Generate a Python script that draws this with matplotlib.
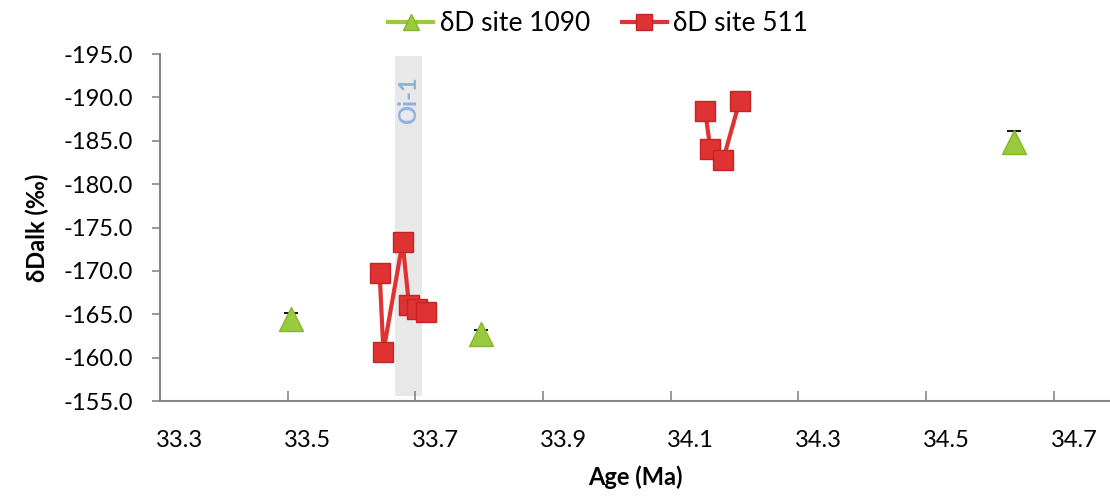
import matplotlib
matplotlib.use("Agg")
import matplotlib.pyplot as plt
from matplotlib.transforms import ScaledTranslation

plt.rcParams["font.family"] = ["Lato", "DejaVu Sans"]

# --- data ---
age_1090 = [33.506, 33.803, 34.638]
dd_1090 = [-164.5, -162.7, -184.9]
err_1090 = [0.6, 0.5, 1.25]

age_511_a = [33.644, 33.650, 33.680, 33.690, 33.703, 33.716]
dd_511_a = [-169.8, -160.7, -173.3, -166.1, -165.6, -165.3]
age_511_b = [34.154, 34.162, 34.182, 34.208]
dd_511_b = [-188.4, -184.1, -182.8, -189.6]

oi1_band = (33.668, 33.711)
y_ticks = [-195, -190, -185, -180, -175, -170, -165, -160, -155]
x_ticks = [33.3, 33.5, 33.7, 33.9, 34.1, 34.3, 34.5, 34.7]

GREEN = "#9acb3c"
GREEN_EDGE = "#86b52c"
RED = "#df3232"
RED_EDGE = "#c42424"
AXIS = "#868686"

fig = plt.figure(figsize=(11.1, 4.96), dpi=100)
ax = fig.add_axes([0.1441, 0.1915, 0.8559, 0.6995])

# Oi-1 shaded band
ax.fill_between(oi1_band, -194.8, -155.6, color="#e8e8e8", lw=0, zorder=0)
ax.text(sum(oi1_band) / 2, -189.7, "Oi-1", rotation=90, ha="center", va="center",
        color="#8db3e2", fontsize=17, fontweight="bold", zorder=1)

# site 1090 with error bars
ax.errorbar(age_1090, dd_1090, yerr=err_1090, fmt="none", ecolor="black",
            elinewidth=1.3, capsize=5, capthick=1.3, zorder=2)
ax.plot(age_1090, dd_1090, ls="none", marker="^", ms=17, color=GREEN,
        mec=GREEN_EDGE, mew=1, zorder=3)

# site 511 (two runs, not joined)
ax.plot(age_511_a, dd_511_a, color=RED, lw=3, marker="s", ms=15,
        mfc=RED, mec=RED_EDGE, mew=1, zorder=4)
ax.plot(age_511_b, dd_511_b, color=RED, lw=3, marker="s", ms=15,
        mfc=RED, mec=RED_EDGE, mew=1, zorder=4)

ax.set_xlim(33.3, 34.788)
ax.set_ylim(-155, -195)
ax.set_yticks(y_ticks)
ax.set_yticklabels([f"{v:.1f}" for v in y_ticks])
ax.set_xticks(x_ticks)
ax.set_xticklabels([f"{v:.1f}" for v in x_ticks])

for s in ["top", "right"]:
    ax.spines[s].set_visible(False)
for s in ["left", "bottom"]:
    ax.spines[s].set_color(AXIS)
    ax.spines[s].set_linewidth(1.5)

ax.tick_params(axis="y", direction="out", length=5.5, width=1.2, color=AXIS,
               labelsize=17, pad=14)
ax.tick_params(axis="x", direction="in", length=7, width=1.2, color=AXIS,
               labelsize=17, pad=21)
# Excel-style: x tick labels sit a bit to the right of their ticks
for lab in ax.get_xticklabels():
    lab.set_transform(lab.get_transform() + ScaledTranslation(0.2, 0, fig.dpi_scale_trans))

ax.set_ylabel("δDalk (‰)", fontsize=17, fontweight="bold", labelpad=10)
ax.set_xlabel("Age (Ma)", fontsize=17, fontweight="bold", labelpad=10)

# legend handles: line + marker
l1, = ax.plot([], [], color=GREEN, lw=3, marker="^", ms=12, mec=GREEN_EDGE)
l2, = ax.plot([], [], color=RED, lw=3, marker="s", ms=11, mec=RED_EDGE)
fig.legend([l1, l2], ["δD site 1090", "δD site 511"], loc="center",
           bbox_to_anchor=(0.539, 0.952), ncol=2, frameon=False, fontsize=19,
           handlelength=1.7, handletextpad=0.25, columnspacing=1.2)

fig.savefig("out.png", dpi=100)
